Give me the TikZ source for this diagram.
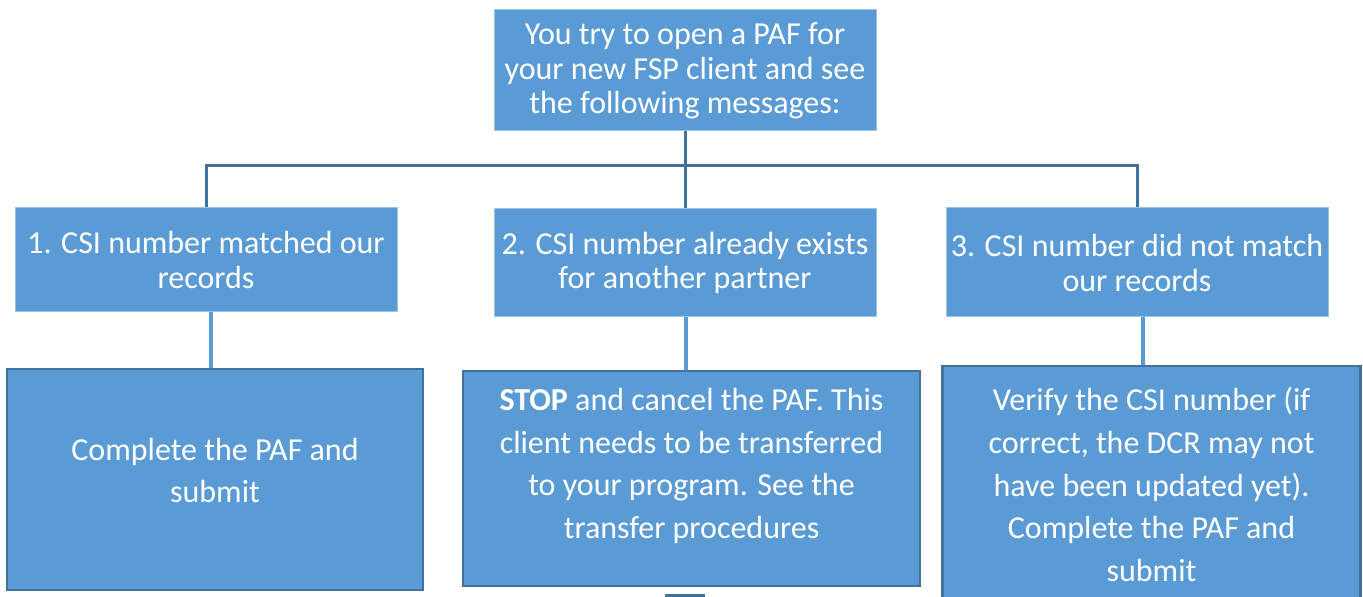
\documentclass[tikz,border=0pt]{standalone}
\usepackage{fontspec}
\setmainfont{Carlito}
\usetikzlibrary{calc}
\definecolor{fillb}{HTML}{5B9BD5}
\definecolor{darkb}{HTML}{41719C}
\definecolor{lightb}{HTML}{9DC3E6}
\tikzset{
  upbox/.style={rectangle, fill=fillb, draw=lightb, line width=1pt, inner sep=0pt},
  lowbox/.style={rectangle, fill=fillb, draw=darkb, line width=2.5pt, inner sep=0pt},
  txt/.style={text=white, align=center, font=\fontsize{32}{34.5}\selectfont, inner sep=0pt},
  txtlow/.style={text=white, align=center, font=\fontsize{32}{42.8}\selectfont, inner sep=0pt},
  tree/.style={draw=darkb, line width=3pt},
  conn/.style={draw=fillb, line width=4pt}
}
\begin{document}
\begin{tikzpicture}[x=1pt,y=-1pt]
\useasboundingbox (0,0) rectangle (1363,597);
% top box
\node[upbox, minimum width=382pt, minimum height=121pt] (t) at (685,69.5) {};
\node[txt] (tt) at (685,71) {You try to open a PAF for\\your new FSP client and see\\the following messages:};
% level 2
\node[upbox, minimum width=382pt, minimum height=104pt] (b1) at (206,259) {};
\node[txt] (b1t) at (206,260) {1. CSI number matched our\\records};
\node[upbox, minimum width=382pt, minimum height=108pt] (b2) at (685,262) {};
\node[txt] (b2t) at (685,263) {2. CSI number already exists\\for another partner};
\node[upbox, minimum width=382pt, minimum height=109pt] (b3) at (1137,261.5) {};
\node[txt] (b3t) at (1137,263) {3. CSI number did not match\\our records};
% level 3
\node[lowbox, minimum width=416pt, minimum height=221pt] (b4) at (215,479.5) {};
\node[txtlow] (b4t) at (215,470.5) {Complete the PAF and\\submit};
\node[lowbox, minimum width=457pt, minimum height=215pt] (b5) at (691.5,478.5) {};
\node[txtlow] (b5t) at (691.5,466) {\textbf{STOP} and cancel the PAF. This\\client needs to be transferred\\to your program. See the\\transfer procedures};
\node[lowbox, minimum width=418pt, minimum height=240pt] (b6) at (1151.5,486) {};
\node[txtlow] (b6t) at (1151.5,484.5) {Verify the CSI number (if\\correct, the DCR may not\\have been updated yet).\\Complete the PAF and\\submit};
% partial shape at the bottom
\node[rectangle, fill=darkb, minimum width=40pt, minimum height=10pt, inner sep=0pt] (p) at (685,599) {};
% tree connectors
\coordinate (j) at (685,165);
\draw[tree] (t.south) -- (j);
\draw[tree] (j) -| (b1.north);
\draw[tree] (j) -| (b3.north);
\draw[tree] (j) -- (b2.north);
% level connectors
\draw[conn] ([xshift=5pt]b1.south) -- ([xshift=5pt]b1.south |- b4.north);
\draw[conn] ([xshift=1pt]b2.south) -- ([xshift=1pt]b2.south |- b5.north);
\draw[conn] ([xshift=6pt]b3.south) -- ([xshift=6pt]b3.south |- b6.north);
\end{tikzpicture}
\end{document}
